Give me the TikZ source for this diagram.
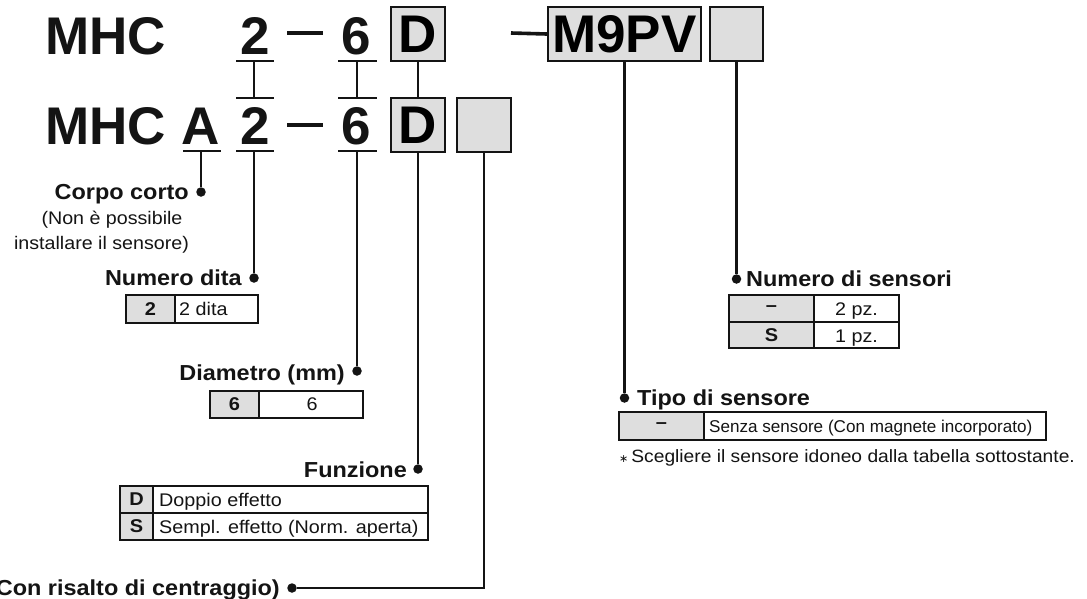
\documentclass[tikz,border=0pt]{standalone}
\usepackage{fontspec}
\setmainfont{Liberation Sans}
\newfontfamily\wf[FakeStretch=1.08]{Liberation Sans}
\newfontfamily\djf{DejaVu Sans}
\definecolor{keygray}{RGB}{222,222,222}
\definecolor{ink}{RGB}{20,20,20}
\tikzset{
 big/.style={font=\fontsize{53}{53}\selectfont\bfseries, inner sep=0pt, text=ink},
 codebox/.style={draw=ink, line width=2.4pt, fill=keygray, inner sep=0pt, minimum height=54pt},
 conn/.style={draw=ink, line width=2.2pt},
 sepline/.style={draw=ink, line width=3.6pt},
 dotn/.style={circle, fill=ink, inner sep=0pt, minimum size=9.5pt},
 lab/.style={font=\wf\fontsize{21.7}{22}\selectfont\bfseries, inner sep=0pt, text=ink},
 sub/.style={font=\wf\fontsize{18.2}{18}\selectfont, inner sep=0pt, text=ink},
 cell/.style={font=\wf\fontsize{18.3}{18}\selectfont, inner sep=0pt, text=ink},
 notet/.style={font=\wf\fontsize{17.8}{18}\selectfont, inner sep=0pt, text=ink},
 cellnarrow/.style={font=\fontsize{17.1}{17}\selectfont, inner sep=0pt, text=ink},
 keyt/.style={font=\wf\fontsize{18.5}{18}\selectfont\bfseries, inner sep=0pt, text=ink},
 tabtop/.style={draw=ink, line width=2pt},
 tabln/.style={draw=ink, line width=1.1pt},
}
\begin{document}
\begin{tikzpicture}[x=1pt,y=-1pt]
\useasboundingbox (0,0) rectangle (1087,598);
\fill[white] (0,0) rectangle (1087,598);

% ---- top row
\node[big, anchor=base west] (mhcT) at (45,54) {MHC};
\node[big, anchor=base] (twoT) at (255.5,54) {2};
\node[big, anchor=base] (sixT) at (356,54) {6};
\node[codebox, minimum width=54pt, font=\fontsize{53}{53}\selectfont\bfseries] (Dtop) at (418,34) {D};
\node[codebox, minimum width=153pt, font=\fontsize{53}{53}\selectfont\bfseries] (sw) at (624.5,34) {M9PV};
\node[codebox, minimum width=53pt] (eTop) at (736.5,34) {};

% ---- bottom row
\node[big, anchor=base west] (mhcB) at (45,144) {MHC};
\node[big, anchor=base] (aB) at (200.5,144) {A};
\node[big, anchor=base] (twoB) at (255.5,144) {2};
\node[big, anchor=base] (sixB) at (356,144) {6};
\node[codebox, minimum width=54pt, font=\fontsize{53}{53}\selectfont\bfseries] (Dbot) at (418,125) {D};
\node[codebox, minimum width=54pt] (eBot) at (484,125) {};

% separators
\coordinate (s1a) at (287,33); \coordinate (s1b) at (323,33);
\coordinate (s2a) at (287,125); \coordinate (s2b) at (323,125);
\coordinate (s3a) at (511,33);
\draw[sepline] (s1a) -- (s1b);
\draw[sepline] (s2a) -- (s2b);
\draw[sepline] (s3a) -- (sw.west);

% underline bars
\coordinate (u2t) at (254,61); \coordinate (o2b) at (254,98); \coordinate (u2b) at (254,151);
\coordinate (u6t) at (357,61); \coordinate (o6b) at (357,98); \coordinate (u6b) at (357,151);
\coordinate (uAb) at (201,151);
\draw[conn] (236,61) -- (274,61) (236,98) -- (274,98) (236,151) -- (274,151);
\draw[conn] (338,61) -- (377,61) (338,98) -- (377,98) (338,151) -- (377,151);
\draw[conn] (183,151) -- (221,151);
\draw[conn] (u2t) -- (o2b);
\draw[conn] (u6t) -- (o6b);
\draw[conn] (Dtop.south) -- (Dbot.north);

% dots
\node[dotn] (dA) at (201,192) {};
\node[dotn] (dN) at (254,278) {};
\node[dotn] (d6) at (357,371) {};
\node[dotn] (dF) at (418,469) {};
\node[dotn] (dC) at (292,588) {};
\node[dotn] (dS) at (736.5,279) {};
\node[dotn] (dT) at (624.5,398) {};

% connectors
\draw[conn] (uAb) -- (dA);
\draw[conn] (u2b) -- (dN);
\draw[conn] (u6b) -- (d6);
\draw[conn] (Dbot.south) -- (dF);
\draw[conn] (eBot.south) |- (dC);
\draw[conn] (sw.south) -- (dT);
\draw[conn] (eTop.south) -- (dS);

% ---- Corpo corto
\node[lab, anchor=base east] (lA) at (189,199) {Corpo corto};
\node[sub, anchor=base] (lA2) at (112,224) {(Non è possibile};
\node[sub, anchor=base] (lA3) at (101.5,249) {installare il sensore)};

% ---- Numero dita
\node[lab, anchor=base east] (lN) at (242,285) {Numero dita};
\fill[keygray] (126,295) rectangle (175,323);
\draw[tabln] (126,295) rectangle (258,323) (175,295) -- (175,323);
\draw[tabtop] (126,295) -- (258,295);
\node[keyt] (tNk) at (150.5,309) {2};
\node[cell, anchor=base west] (tNv) at (179,315.5) {2 dita};

% ---- Diametro
\node[lab, anchor=base east] (l6) at (345,380) {Diametro (mm)};
\fill[keygray] (210,391) rectangle (259,418);
\draw[tabln] (210,391) rectangle (363,418) (259,391) -- (259,418);
\draw[tabtop] (210,391) -- (363,391);
\node[keyt] (t6k) at (234.5,404.5) {6};
\node[cell] (t6v) at (312,404.5) {6};

% ---- Funzione
\node[lab, anchor=base east] (lF) at (407,477) {Funzione};
\fill[keygray] (120,486) rectangle (153,540);
\draw[tabln] (120,486) rectangle (428,540) (153,486) -- (153,540) (120,513) -- (428,513);
\draw[tabtop] (120,486) -- (428,486);
\node[keyt] (tFk1) at (136.5,499.5) {D};
\node[keyt] (tFk2) at (136.5,526.5) {S};
\node[cell, anchor=base west] (tFv1) at (159,506) {Doppio effetto};
\node[cell, anchor=base west] (tFv2) at (159,533) {Sempl. effetto (Norm. aperta)};

% ---- Con risalto
\node[lab, anchor=base east] (lC) at (280,595) {(Con risalto di centraggio)};

% ---- Numero di sensori
\node[lab, anchor=base west] (lS) at (746,286) {Numero di sensori};
\fill[keygray] (729,295) rectangle (814,348);
\draw[tabln] (729,295) rectangle (899,348) (814,295) -- (814,348) (729,322) -- (899,322);
\draw[tabtop] (729,295) -- (899,295);
\node[keyt] (tSk1) at (771.5,308.5) {–};
\node[keyt] (tSk2) at (771.5,335) {S};
\node[cell, anchor=base] (tSv1) at (856.5,315.5) {2 pz.};
\node[cell, anchor=base] (tSv2) at (856.5,342) {1 pz.};

% ---- Tipo di sensore
\node[lab, anchor=base west] (lT) at (637,405) {Tipo di sensore};
\fill[keygray] (619,412) rectangle (704,440);
\draw[tabln] (619,412) rectangle (1046,440) (704,412) -- (704,440);
\draw[tabtop] (619,412) -- (1046,412);
\node[keyt] (tTk) at (661.5,426) {–};
\node[cellnarrow, anchor=base west] (tTv) at (709,432) {Senza sensore (Con magnete incorporato)};
\node[notet, anchor=base west] (note) at (619,462) {{\djf\fontsize{11}{11}\selectfont ∗}\,Scegliere il sensore idoneo dalla tabella sottostante.};
\end{tikzpicture}
\end{document}
